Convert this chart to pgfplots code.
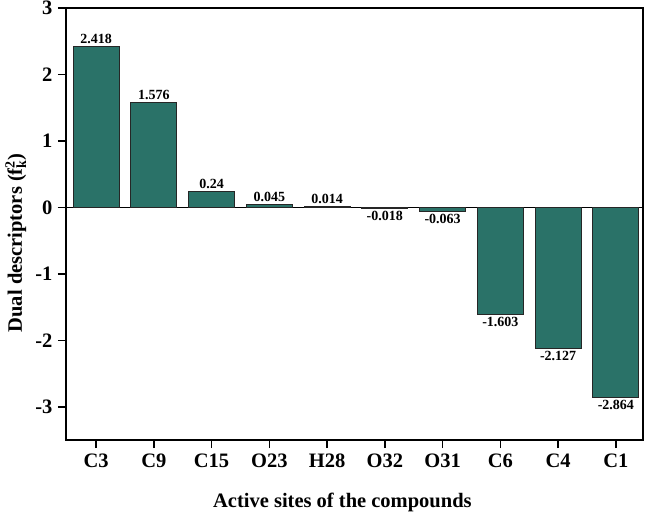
\documentclass[border=0pt]{standalone}
\usepackage{pgfplots}
\pgfplotsset{compat=1.18}
\usepackage{pgfplotstable}
\usepackage{fontspec}
\setmainfont{Liberation Serif}
\definecolor{barteal}{RGB}{42,114,104}
\pgfplotstableread{
x name val lab
0 C3 2.418 2.418
1 C9 1.576 1.576
2 C15 0.24 0.24
3 O23 0.045 0.045
4 H28 0.014 0.014
5 O32 -0.018 -0.018
6 O31 -0.063 -0.063
7 C6 -1.603 -1.603
8 C4 -2.127 -2.127
9 C1 -2.864 -2.864
}\datatable
\newcommand{\ssz}{\fontsize{14}{14}\selectfont}
\begin{document}
\begin{tikzpicture}
\begin{axis}[
  at={(0,0)}, anchor=south west,
  scale only axis,
  width=577pt, height=432pt,
  xmin=-0.52, xmax=9.47,
  ymin=-3.5, ymax=3,
  ybar, bar width=46pt,
  xtick=data,
  xticklabels={C3,C9,C15,O23,H28,O32,O31,C6,C4,C1},
  ytick={-3,-2,-1,0,1,2,3},
  yticklabels={-3,-2,-1,0,1,2,3},
  xtick pos=bottom, ytick pos=left,
  tick align=outside,
  major tick length=8pt,
  every tick/.style={black, line width=1.6pt},
  axis line style={line width=1.6pt},
  ticklabel style={font=\fontsize{20.5}{24}\selectfont\bfseries},
  xticklabel style={yshift=-2pt},
  yticklabel style={xshift=-2pt},
  extra y ticks={0},
  extra y tick labels={},
  extra y tick style={grid=major, major grid style={black, line width=1.6pt}},
  ylabel={Dual descriptors (f\raisebox{0.75ex}{\ssz 2}\kern-0.35em\raisebox{-0.45ex}{\ssz k})},
  xlabel={Active sites of the compounds},
  label style={font=\fontsize{20.5}{24}\selectfont\bfseries},
  ylabel style={at={(axis description cs:-0.087,0.456)}, anchor=center, rotate=0},
  xlabel style={at={(axis description cs:0.479,-0.157)}, anchor=base},
  nodes near coords,
  point meta=explicit symbolic,
  visualization depends on={\thisrow{val} \as \rawv},
  nodes near coords style={font=\fontsize{14}{16}\selectfont\bfseries, inner sep=2.5pt,
    anchor={\ifdim \rawv pt<0pt north\else south\fi}},
]
\addplot[fill=barteal, draw=black!85, line width=0.8pt] table[x=x, y=val, meta=lab] {\datatable};
\end{axis}
\pgfresetboundingbox
\path (-66pt,-72pt) rectangle (579pt,440pt);
\end{tikzpicture}
\end{document}
